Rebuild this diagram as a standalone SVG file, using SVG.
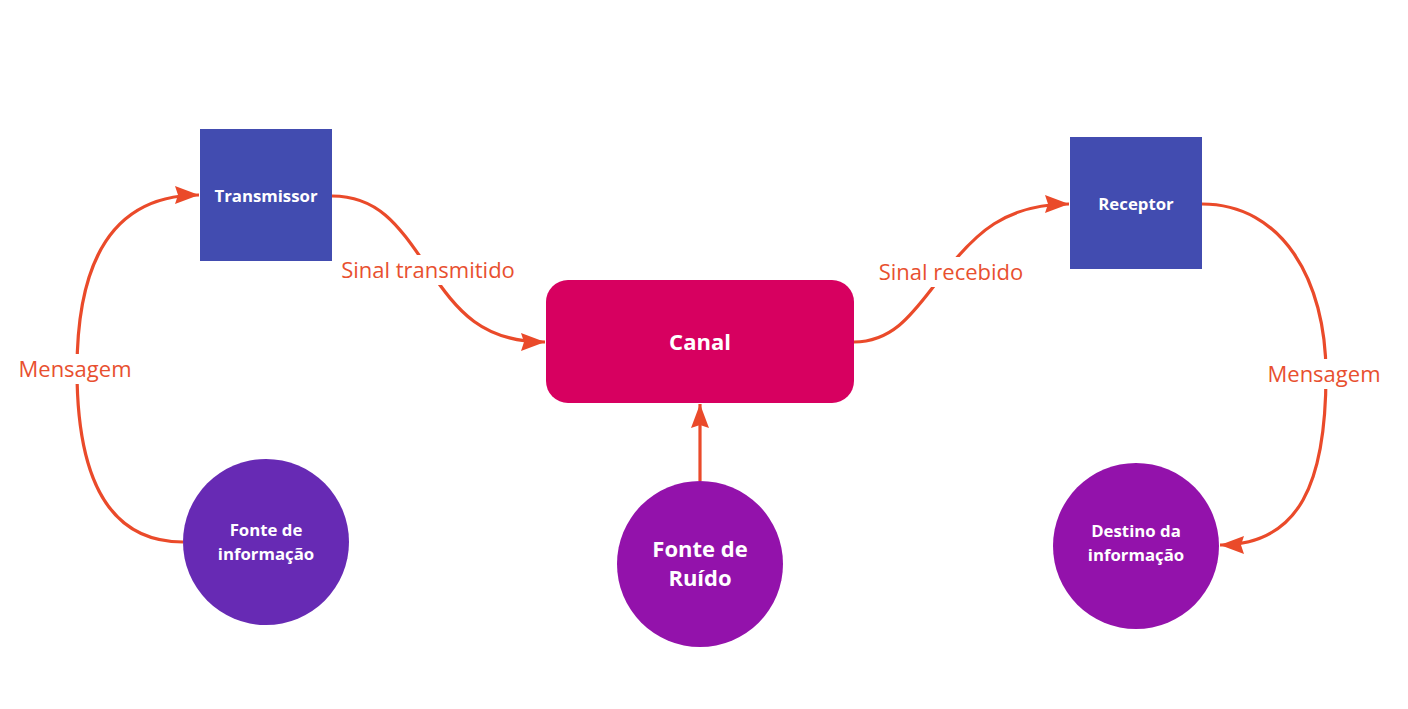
<svg xmlns="http://www.w3.org/2000/svg" width="1408" height="709" viewBox="0 0 1408 709">
<style>
.node text{font-family:"Open Sans","Liberation Sans",sans-serif;font-weight:700;fill:#ffffff;text-anchor:middle;dominant-baseline:central}
.box{fill:#424cb0}
.conn path,.conn line{fill:none;stroke:#ea4a2a;stroke-width:3.2}
.lbl{font-family:"Open Sans","Liberation Sans",sans-serif;font-size:22px;fill:#e8502f;text-anchor:middle;dominant-baseline:central}
.lblbg{fill:#ffffff}
</style>
<defs>
<marker id="arr" viewBox="0 0 24 18" refX="24" refY="9" markerWidth="24" markerHeight="18" markerUnits="userSpaceOnUse" orient="auto">
<path d="M0,0 L24,9 L0,18 L3,9 Z" fill="#ea4a2a"/>
</marker>
</defs>
<rect width="1408" height="709" fill="#ffffff"/>
<g class="conn">
<path d="M183,542 C110,542 77,480 77,370 C77,262 112,195 199,195" marker-end="url(#arr)"/>
<path d="M332,196 C380,196 400,228 428,268 C458,312 482,342 545,342" marker-end="url(#arr)"/>
<path d="M854,342 C898,342 918,305 945,272 C975,234 1005,204 1069,204" marker-end="url(#arr)"/>
<path d="M1202,204 C1282,204 1326,280 1326,374 C1326,482 1300,545 1220,545" marker-end="url(#arr)"/>
<line x1="700" y1="481" x2="700" y2="404" marker-end="url(#arr)"/>
<rect class="lblbg" x="15" y="354" width="122" height="30"/>
<text class="lbl" x="75" y="368">Mensagem</text>
<rect class="lblbg" x="338" y="255" width="180" height="30"/>
<text class="lbl" x="428" y="269">Sinal transmitido</text>
<rect class="lblbg" x="876" y="257" width="152" height="30"/>
<text class="lbl" x="951" y="271">Sinal recebido</text>
<rect class="lblbg" x="1263" y="359" width="122" height="30"/>
<text class="lbl" x="1324" y="373">Mensagem</text>
</g>
<g id="transmissor" class="node">
<rect class="box" x="200" y="129" width="132" height="132"/>
<text x="266" y="195" font-size="16.8">Transmissor</text>
</g>
<g id="receptor" class="node">
<rect class="box" x="1070" y="137" width="132" height="132"/>
<text x="1136" y="203" font-size="16.8">Receptor</text>
</g>
<g id="canal" class="node">
<rect x="546" y="280" width="308" height="123" rx="22" fill="#d70060"/>
<text x="700" y="341" font-size="22">Canal</text>
</g>
<g id="fonte-informacao" class="node">
<circle cx="266" cy="542" r="83" fill="#672ab4"/>
<text x="266" y="529" font-size="16.8">Fonte de</text>
<text x="266" y="553" font-size="16.8">informação</text>
</g>
<g id="fonte-ruido" class="node">
<circle cx="700" cy="564" r="83" fill="#9312ab"/>
<text x="700" y="548" font-size="22">Fonte de</text>
<text x="700" y="577" font-size="22">Ruído</text>
</g>
<g id="destino" class="node">
<circle cx="1136" cy="546" r="83" fill="#9312ab"/>
<text x="1136" y="530" font-size="16.8">Destino da</text>
<text x="1136" y="554" font-size="16.8">informação</text>
</g>
</svg>
